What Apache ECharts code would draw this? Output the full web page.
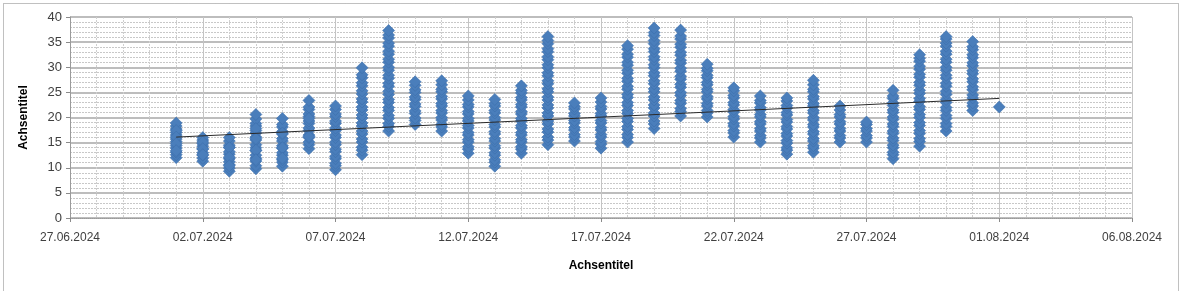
<!DOCTYPE html>
<html>
<head>
<meta charset="utf-8">
<script src="https://cdn.jsdelivr.net/npm/echarts@6/dist/echarts.min.js"></script>
<style>
html,body{margin:0;padding:0;background:#fff;}
#chart{width:1179px;height:291px;}
</style>
</head>
<body>
<div id="chart"></div>
<script>
// ---- data ----
const axisStart = '2024-06-27';
const axisEnd = '2024-08-06';
const dates = ['2024-07-01','2024-07-02','2024-07-03','2024-07-04','2024-07-05','2024-07-06','2024-07-07','2024-07-08',
  '2024-07-09','2024-07-10','2024-07-11','2024-07-12','2024-07-13','2024-07-14','2024-07-15','2024-07-16',
  '2024-07-17','2024-07-18','2024-07-19','2024-07-20','2024-07-21','2024-07-22','2024-07-23','2024-07-24',
  '2024-07-25','2024-07-26','2024-07-27','2024-07-28','2024-07-29','2024-07-30','2024-07-31','2024-08-01'];
const readings = [
  [12.0,12.6,13.1,13.9,14.4,15.2,15.7,16.5,17.0,17.7,18.3,18.9,17.4,16.1,14.8,13.4],
  [11.3,11.9,12.5,13.0,13.7,14.3,14.8,15.5,16.0,15.1,13.8,12.6],
  [9.3,9.9,10.6,11.2,11.8,12.7,13.2,14.1,14.5,15.3,16.0,14.0,12.1,10.4],
  [9.8,10.4,11.3,11.9,12.5,13.4,14.0,14.6,15.5,16.1,16.9,17.4,18.3,18.8,19.7,20.6,17.8,15.8,13.5,11.6],
  [10.3,11.1,11.6,12.5,13.0,13.9,14.4,15.3,15.8,16.7,17.2,18.1,18.6,19.8,16.9,14.0,11.9],
  [13.8,14.6,15.1,16.0,16.5,17.4,17.9,18.8,19.3,20.2,20.7,21.6,22.1,23.4,19.8,16.2],
  [9.6,10.4,10.9,11.8,12.3,13.2,13.7,14.6,15.1,16.0,16.5,17.4,17.9,18.8,19.3,20.2,20.7,21.6,22.3],
  [12.6,13.5,14.1,15.1,15.7,16.7,17.3,18.3,18.9,19.9,20.5,21.5,22.1,23.1,23.7,24.7,25.3,26.3,26.9,27.9,28.5,29.9],
  [17.3,18.2,18.8,19.8,20.4,21.4,22.0,23.0,23.6,24.6,25.2,26.2,26.8,27.8,28.4,29.4,30.0,31.0,31.6,32.6,33.2,34.2,34.8,35.8,36.4,37.3],
  [18.6,19.4,19.9,20.8,21.3,22.2,22.7,23.6,24.1,25.0,25.5,26.4,27.1],
  [17.3,18.1,18.6,19.5,20.0,20.9,21.4,22.3,22.8,23.7,24.2,25.1,25.6,26.5,27.3],
  [12.9,13.7,14.2,15.1,15.6,16.5,17.0,17.9,18.4,19.3,19.8,20.7,21.2,22.1,22.6,23.5,24.3],
  [10.3,11.1,11.6,12.5,13.0,13.9,14.4,15.3,15.8,16.7,17.2,18.1,18.6,19.5,20.0,20.9,21.4,22.3,22.8,23.6],
  [12.9,13.7,14.2,15.1,15.6,16.5,17.0,17.9,18.4,19.3,19.8,20.7,21.2,22.1,22.6,23.5,24.0,24.9,25.4,26.3],
  [14.6,15.5,16.1,17.1,17.7,18.7,19.3,20.3,20.9,21.9,22.5,23.5,24.1,25.1,25.7,26.7,27.3,28.3,28.9,29.9,30.5,31.5,32.1,33.1,33.7,34.7,35.3,36.1],
  [15.3,16.1,16.6,17.5,18.0,18.9,19.4,20.3,20.8,21.7,22.2,22.9],
  [13.9,14.7,15.2,16.1,16.6,17.5,18.0,18.9,19.4,20.3,20.8,21.7,22.2,23.1,23.9],
  [15.1,16.0,16.6,17.6,18.2,19.2,19.8,20.8,21.4,22.4,23.0,24.0,24.6,25.6,26.2,27.2,27.8,28.8,29.4,30.4,31.0,32.0,32.6,33.6,34.3],
  [17.8,18.7,19.3,20.3,20.9,21.9,22.5,23.5,24.1,25.1,25.7,26.7,27.3,28.3,28.9,29.9,30.5,31.5,32.1,33.1,33.7,34.7,35.3,36.3,36.9,37.8],
  [20.3,21.2,21.8,22.8,23.4,24.4,25.0,26.0,26.6,27.6,28.2,29.2,29.8,30.8,31.4,32.4,33.0,34.0,34.6,35.6,36.2,37.4],
  [20.1,20.9,21.4,22.3,22.8,23.7,24.2,25.1,25.6,26.5,27.0,27.9,28.4,29.3,29.8,30.6],
  [16.1,16.9,17.4,18.3,18.8,19.7,20.2,21.1,21.6,22.5,23.0,23.9,24.4,25.3,25.9],
  [15.1,15.9,16.4,17.3,17.8,18.7,19.2,20.1,20.6,21.5,22.0,22.9,23.4,24.3],
  [12.7,13.5,14.0,14.9,15.4,16.3,16.8,17.7,18.2,19.1,19.6,20.5,21.0,21.9,22.4,23.3,23.9],
  [13.1,13.9,14.4,15.3,15.8,16.7,17.2,18.1,18.6,19.5,20.0,20.9,21.4,22.3,22.8,23.7,24.2,25.1,25.6,26.5,27.4],
  [15.1,15.9,16.4,17.3,17.8,18.7,19.2,20.1,20.6,21.5,22.3],
  [15.1,15.9,16.4,17.3,17.8,18.6,19.1],
  [11.8,12.6,13.1,14.0,14.5,15.4,15.9,16.8,17.3,18.2,18.7,19.6,20.1,21.0,21.5,22.4,22.9,23.8,24.3,25.4],
  [14.3,15.2,15.8,16.8,17.4,18.4,19.0,20.0,20.6,21.6,22.2,23.2,23.8,24.8,25.4,26.4,27.0,28.0,28.6,29.6,30.2,31.2,31.8,32.5],
  [17.3,18.2,18.8,19.8,20.4,21.4,22.0,23.0,23.6,24.6,25.2,26.2,26.8,27.8,28.4,29.4,30.0,31.0,31.6,32.6,33.2,34.2,34.8,35.6,36.1],
  [21.4,22.3,22.9,23.9,24.5,25.5,26.1,27.1,27.7,28.7,29.3,30.3,30.9,31.9,32.5,33.5,34.1,35.1],
  [22.1]
];
const trendDates = ['2024-07-01','2024-08-01'];
const trendValues = [16.1, 23.8];
const yTicks = [0,5,10,15,20,25,30,35,40];
const xTitle = 'Achsentitel';
const yTitle = 'Achsentitel';

// ---- build ----
const DAY = 86400000;
const base = Date.parse(axisStart + 'T00:00:00Z');
const toX = d => Math.round((Date.parse(d + 'T00:00:00Z') - base) / DAY);
const fmt = v => {
  const t = new Date(base + v * DAY);
  const dd = String(t.getUTCDate()).padStart(2,'0');
  const mm = String(t.getUTCMonth()+1).padStart(2,'0');
  return dd + '.' + mm + '.' + t.getUTCFullYear();
};
const points = [];
dates.forEach((d, i) => readings[i].forEach(v => points.push([toX(d), v])));
const trend = trendDates.map((d, i) => [toX(d), trendValues[i]]);

const chart = echarts.init(document.getElementById('chart'), null, {renderer: 'canvas'});
const labelFont = {fontFamily: 'Liberation Sans', fontSize: 12, color: '#404040'};
chart.setOption({
  animation: false,
  backgroundColor: '#fff',
  grid: {left: 70, right: 47, top: 17, bottom: 73, containLabel: false},
  xAxis: {
    type: 'value', min: 0, max: toX(axisEnd), interval: 5,
    name: xTitle, nameLocation: 'middle', nameGap: 42,
    nameTextStyle: {fontFamily: 'Liberation Sans', fontSize: 12, fontWeight: 'bold', color: '#000'},
    axisLine: {show: true, onZero: false, lineStyle: {color: '#9a9a9a', type: [1,1]}},
    axisTick: {show: true, length: 4, lineStyle: {color: '#8a8a8a'}},
    axisLabel: Object.assign({formatter: fmt, margin: 14}, labelFont),
    splitLine: {show: true, lineStyle: {color: '#c4c4c4', width: 1}},
    minorTick: {show: false, splitNumber: 5},
    minorSplitLine: {show: true, lineStyle: {color: '#cfcfcf', width: 1, type: [2,1]}}
  },
  yAxis: {
    type: 'value', min: yTicks[0], max: yTicks[yTicks.length-1], interval: 5,
    name: yTitle, nameLocation: 'middle', nameGap: 40, nameRotate: 90,
    nameTextStyle: {fontFamily: 'Liberation Sans', fontSize: 12, fontWeight: 'bold', color: '#000'},
    axisLine: {show: true, lineStyle: {color: '#9a9a9a'}},
    axisTick: {show: true, length: 4, lineStyle: {color: '#8a8a8a'}},
    axisLabel: Object.assign({margin: 8}, labelFont, {fontSize: 13}),
    splitLine: {show: true, lineStyle: {color: '#bdbdbd', width: 2}},
    minorTick: {show: false, splitNumber: 5},
    minorSplitLine: {show: true, lineStyle: {color: '#c8c8c8', width: 1, type: [2,1]}}
  },
  series: [
    {
      type: 'scatter', data: points, symbol: 'diamond', symbolSize: [12, 12],
      itemStyle: {color: '#4a7ebb', borderColor: '#3d6fab', borderWidth: 0.6, opacity: 1},
      z: 3
    },
    {
      type: 'line', data: trend, symbol: 'none', silent: true,
      lineStyle: {color: '#2a2a2a', width: 1}, z: 4
    }
  ],
  graphic: [{
    type: 'rect', left: 1, top: 1, silent: true,
    shape: {width: 1175, height: 288},
    style: {fill: null, stroke: '#808080', lineWidth: 1, lineDash: [1,1]}
  }]
});
</script>
</body>
</html>
